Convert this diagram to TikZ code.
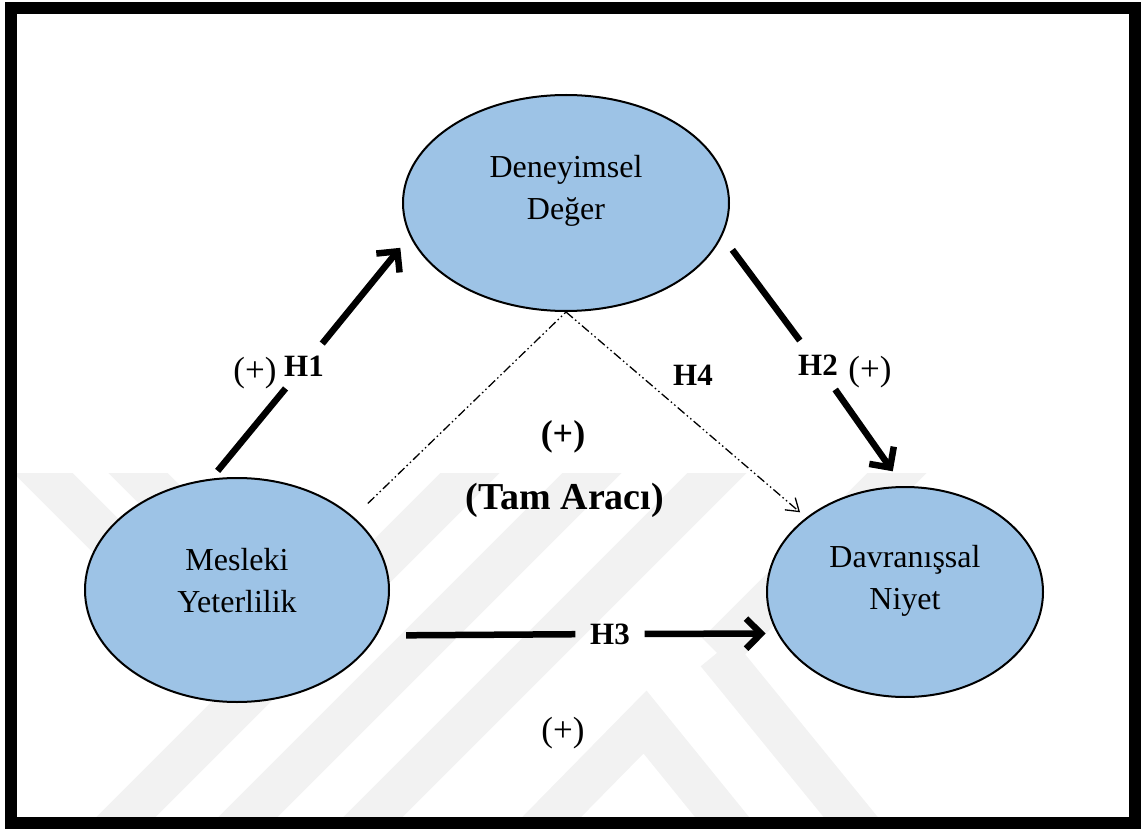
\documentclass[tikz,border=0pt]{standalone}
\usepackage{fontspec}
\setmainfont{Liberation Serif}
\usetikzlibrary{shapes.geometric,arrows.meta}

\definecolor{constructfill}{HTML}{9DC3E6}
\definecolor{wmgray}{HTML}{F2F2F2}

\tikzset{
  construct/.style={ellipse, draw, line width=2pt, fill=constructfill, inner sep=0pt},
  constructtext/.style={align=center, font=\fontsize{32}{42}\selectfont},
  hyp/.style={line width=6.5pt},
  hyparrow/.style={hyp, -{Straight Barb[length=15pt,width=30pt]}},
  hlabel/.style={font=\fontsize{31}{36}\selectfont\bfseries},
  sign/.style={font=\fontsize{35}{40}\selectfont},
  medline/.style={line width=1.3pt, dash pattern=on 9pt off 3pt on 1.5pt off 3pt on 1.5pt off 3pt},
  medtip/.style={-{Straight Barb[length=12pt,width=16pt]}},
  wmark/.style={draw=wmgray, line width=42pt, line join=miter}
}

\begin{document}
\begin{tikzpicture}[x=1pt,y=-1pt]
  \useasboundingbox (0,0) rectangle (1141,829);

  % faint background pattern
  \begin{scope}
    \clip (16,473) rectangle (1129,817);
    \foreach \b in {126,248,373} \draw[wmark] (\b-80,897) -- (\b+440,377);
    \draw[wmark] (480,890) -- (645,722) -- (765,870);
    \draw[wmark] (717,653) -- (880,853);
    \draw[wmark] (717,653) -- (920,450);
    \draw[wmark] (10,440) -- (230,660);
    \draw[wmark] (105,440) -- (325,660);
  \end{scope}

  % outer frame
  \draw[line width=12pt] (10.5,8) rectangle (1135,823);

  % constructs
  \node[construct, minimum width=326pt, minimum height=216pt,
        label={[constructtext, yshift=12pt]center:Deneyimsel\\Değer}] (dd) at (566,203) {};
  \node[construct, minimum width=304pt, minimum height=224pt,
        label={[constructtext, yshift=9pt]center:Mesleki\\Yeterlilik}] (ml) at (237,590) {};
  \node[construct, minimum width=276pt, minimum height=210pt,
        label={[constructtext, yshift=11pt]center:Davranışsal\\Niyet}] (dn) at (905,592) {};

  % hypothesis labels
  \node[hlabel, inner sep=12pt] (h1) at (304,366) {H1};
  \node[hlabel, inner sep=14pt] (h2) at (818,365) {H2};
  \node[hlabel, inner xsep=14.7pt] (h3) at (610,634) {H3};
  \node[hlabel] (h4) at (693,375) {H4};
  \node[sign] (s1) at (255,373) {(+)};
  \node[sign] (s2) at (870,372) {(+)};
  \node[sign, font=\fontsize{36}{40}\selectfont\bfseries] (s4) at (563,437) {(+)};
  \node[font=\fontsize{38}{42}\selectfont\bfseries] (tam) at (565,500) {(Tam Aracı)};
  \node[sign] (s3) at (563,733) {(+)};

  % paths
  \draw[hyp, shorten <=10pt] (ml.103) -- (h1);
  \draw[hyparrow, shorten >=15pt] (h1) -- (dd.192.6);
  \draw[hyp, shorten <=17pt] (dd.348.7) -- (h2);
  \draw[hyparrow, shorten >=18pt] (h2) -- (dn.91.3);
  \draw[hyp, shorten <=29pt] (ml.342.5) -- (h3);
  \draw[hyparrow, shorten >=11.5pt] (h3) -- (dn.198.4);

  % mediation
  \draw[medline, shorten <=19.5pt] (ml.32.5) -- (dd.south);
  \draw[medline, medtip, shorten >=8pt] (dd.south) -- (dn.143.3);
\end{tikzpicture}
\end{document}
